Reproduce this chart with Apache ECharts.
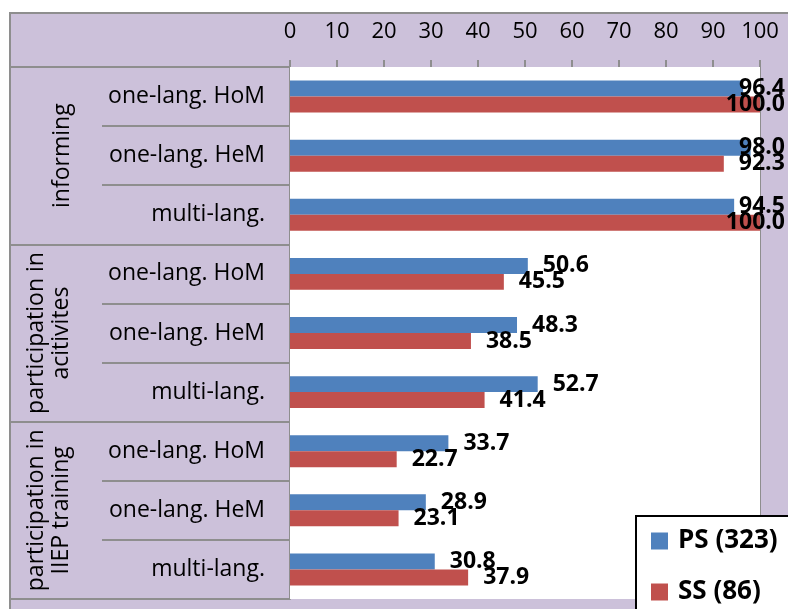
<!DOCTYPE html>
<html>
<head>
<meta charset="utf-8">
<script src="https://cdn.jsdelivr.net/npm/echarts@6/dist/echarts.min.js"></script>
<style>
  html, body { margin: 0; padding: 0; background: #ffffff; }
  #chart { width: 788px; height: 609px; }
</style>
</head>
<body>
<div id="chart"></div>
<script>
// Survey shares (%) by activity and language background
const categories = [
  'one-lang. HoM', 'one-lang. HeM', 'multi-lang.',
  'one-lang. HoM', 'one-lang. HeM', 'multi-lang.',
  'one-lang. HoM', 'one-lang. HeM', 'multi-lang.'
];
const groups = ['informing', 'participation in\nacitivites', 'participation in\nIIEP training'];
const groupSize = 3;
const seriesNames = ['PS (323)', 'SS (86)'];
const psValues = [96.4, 98.0, 94.5, 50.6, 48.3, 52.7, 33.7, 28.9, 30.8];
const ssValues = [100.0, 92.3, 100.0, 45.5, 38.5, 41.4, 22.7, 23.1, 37.9];
const axisMin = 0, axisMax = 100, axisStep = 10;

const FONT = 'Open Sans';
const LAVENDER = '#ccc1da';
const GRID_GRAY = '#8e8e8e';
const CHART_W = 788;
const LABEL_SIZE = 23;
const LABEL_DIST = 15;

const chart = echarts.init(document.getElementById('chart'), null, { renderer: 'canvas' });

const labelStyle = {
  show: true,
  position: 'right',
  distance: LABEL_DIST,
  fontFamily: FONT,
  fontWeight: 'bold',
  fontSize: LABEL_SIZE,
  color: '#000',
  formatter: p => p.value.toFixed(1)
};

const option = {
  backgroundColor: '#ffffff',
  animation: false,
  grid: {
    left: 290, right: 28, top: 67, bottom: 10,
    show: true, backgroundColor: '#ffffff', borderWidth: 0, z: 1
  },
  legend: {
    orient: 'vertical',
    left: 651, top: 528,
    padding: 0,
    itemWidth: 17, itemHeight: 17, itemGap: 25,
    icon: 'rect',
    textStyle: { fontFamily: FONT, fontWeight: 'bold', fontSize: 26, color: '#000', padding: [0, 0, 0, 5] },
    data: seriesNames,
    z: 20
  },
  xAxis: {
    type: 'value', position: 'top',
    min: axisMin, max: axisMax, interval: axisStep,
    axisLine: { show: false },
    axisTick: { show: true, inside: false, length: 7, lineStyle: { color: GRID_GRAY, width: 2 } },
    splitLine: { show: true, lineStyle: { color: GRID_GRAY, width: 2 } },
    axisLabel: { margin: 24, fontFamily: FONT, fontSize: 22, color: '#000' }
  },
  yAxis: [
    {
      type: 'category', inverse: true, data: categories,
      axisLine: { show: true, lineStyle: { color: GRID_GRAY, width: 2 } },
      axisTick: { show: true, inside: false, length: 188, lineStyle: { color: GRID_GRAY, width: 2 } },
      axisLabel: { margin: 25, fontFamily: FONT, fontSize: 23, color: '#000' },
      splitLine: { show: false }
    },
    {
      // group boundaries spanning the full label column
      type: 'category', inverse: true, position: 'left', offset: 0,
      data: groups,
      axisLine: { show: false },
      axisTick: { show: true, inside: false, length: 280, lineStyle: { color: GRID_GRAY, width: 2 } },
      axisLabel: { show: false },
      splitLine: { show: false }
    }
  ],
  series: [
    {
      name: seriesNames[0], type: 'bar', yAxisIndex: 0,
      data: psValues, barGap: '0%', barCategoryGap: '46%',
      itemStyle: { color: '#4f81bd' },
      label: labelStyle, z: 3
    },
    {
      name: seriesNames[1], type: 'bar', yAxisIndex: 0,
      data: ssValues, barGap: '0%', barCategoryGap: '46%',
      itemStyle: { color: '#c0504d' },
      label: labelStyle, z: 3
    }
  ],
  graphic: [
    {
      type: 'rect', z: -100, silent: true,
      shape: { x: 10, y: 13, width: 800, height: 620 },
      style: { fill: LAVENDER, stroke: GRID_GRAY, lineWidth: 2 }
    },
    {
      // legend frame
      type: 'rect', z: 15, silent: true,
      shape: { x: 636, y: 516, width: 200, height: 150 },
      style: { fill: '#ffffff', stroke: '#000000', lineWidth: 2 }
    }
  ]
};

chart.setOption(option);

// keep value labels inside the canvas: shift labels that would run past the right edge
const measureCtx = document.createElement('canvas').getContext('2d');
measureCtx.font = 'bold ' + LABEL_SIZE + 'px "' + FONT + '"';
function withClampedLabels(values) {
  return values.map(v => {
    const end = chart.convertToPixel({ xAxisIndex: 0 }, v);
    const w = measureCtx.measureText(v.toFixed(1)).width;
    const over = end + LABEL_DIST + w - (CHART_W - 3);
    return over > 0 ? { value: v, label: { offset: [-over, 0] } } : v;
  });
}

// rotated group titles centred on each group of categories
const groupTitles = groups.map((g, i) => {
  const mid = chart.convertToPixel({ yAxisIndex: 0 }, i * groupSize + 1);
  const twoLines = g.indexOf('\n') >= 0;
  return {
    type: 'text', z: 5, silent: true,
    x: twoLines ? 49 : 62, y: mid,
    rotation: Math.PI / 2,
    style: {
      text: g, fontFamily: FONT, fontSize: 23, fill: '#000',
      align: 'center', verticalAlign: 'middle', lineHeight: 25
    }
  };
});

chart.setOption({
  series: [{ data: withClampedLabels(psValues) }, { data: withClampedLabels(ssValues) }],
  graphic: option.graphic.concat(groupTitles)
});
</script>
</body>
</html>
